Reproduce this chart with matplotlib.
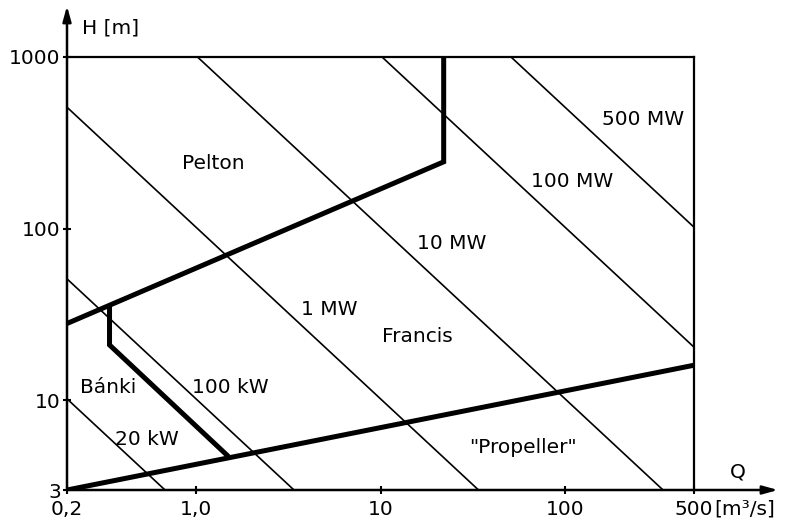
import matplotlib
matplotlib.use('Agg')
import matplotlib.pyplot as plt
import numpy as np
from matplotlib.ticker import FixedLocator, FixedFormatter, NullLocator

# ---- data ----
x_ticks = [0.2, 1.0, 10, 100, 500]
x_ticklabels = ['0,2', '1,0', '10', '100', '500']
y_ticks = [3, 10, 100, 1000]
y_ticklabels = ['3', '10', '100', '1000']

power_kW = [20, 100, 1000, 10000, 100000, 500000]
power_labels = ['20 kW', '100 kW', '1 MW', '10 MW', '100 MW', '500 MW']
rho_g = 9.81  # kN/m^3

pelton_Q = [0.2, 22, 22]
pelton_H = [28, 245, 1000]
banki_Q = [0.34, 0.34, 1.5]
banki_H = [35, 21, 4.7]
propeller_Q = [0.2, 500]
propeller_H = [3, 16]

region_labels = ['Pelton', 'Francis', 'Bánki', '"Propeller"']

# ---- layout ----
W, H = 794, 528
fig = plt.figure(figsize=(W / 100, H / 100), dpi=100)
x0, x1, y0, y1 = 67, 694, 57, 490
ax = fig.add_axes([x0 / W, 1 - y1 / H, (x1 - x0) / W, (y1 - y0) / H])
ax.set_xscale('log')
ax.set_yscale('log')
ax.set_xlim(0.2, 500)
ax.set_ylim(3, 1000)

fs = 14.5
font = 'DejaVu Sans'

# power lines
Qr = np.array([0.05, 2000.0])
for p in power_kW:
    ax.plot(Qr, p / (rho_g * Qr), color='black', lw=1.2, solid_capstyle='butt')

# thick boundaries
for q, h in [(pelton_Q, pelton_H), (banki_Q, banki_H), (propeller_Q, propeller_H)]:
    ax.plot(q, h, color='black', lw=3.6, solid_joinstyle='miter', solid_capstyle='butt')

# power labels
power_pos = [(0.54, 5.87), (1.53, 11.8), (5.3, 33.6), (24.4, 82), (109, 187), (265, 430)]
for lab, (qx, hy) in zip(power_labels, power_pos):
    ax.text(qx, hy, lab, ha='center', va='center', fontsize=fs, family=font)

region_pos = [(1.24, 241), (15.8, 23.4), (0.333, 11.8), (59, 5.34)]
for lab, (qx, hy) in zip(region_labels, region_pos):
    ax.text(qx, hy, lab, ha='center', va='center', fontsize=fs, family=font)

# spines / axes
for s in ['left', 'bottom']:
    ax.spines[s].set_visible(False)
for s in ['top', 'right']:
    ax.spines[s].set_linewidth(1.6)

ax.xaxis.set_major_locator(FixedLocator(x_ticks))
ax.xaxis.set_major_formatter(FixedFormatter(x_ticklabels))
ax.xaxis.set_minor_locator(NullLocator())
ax.yaxis.set_major_locator(FixedLocator(y_ticks))
ax.yaxis.set_major_formatter(FixedFormatter(y_ticklabels))
ax.yaxis.set_minor_locator(NullLocator())
ax.tick_params(axis='both', which='major', direction='inout', length=6, width=1.5,
               labelsize=fs)
ax.tick_params(axis='x', top=False, pad=4)
ax.tick_params(axis='y', right=False, pad=1.5)
for t in ax.get_xticklabels() + ax.get_yticklabels():
    t.set_family(font)

# arrows for axes
arrow_kw = dict(arrowstyle='-|>,head_length=0.9,head_width=0.25', lw=1.8, color='black',
                shrinkA=0, shrinkB=0)
ax.annotate('', xy=((778 - x0) / (x1 - x0), 0), xytext=(0, 0),
            xycoords='axes fraction', textcoords='axes fraction',
            arrowprops=arrow_kw, annotation_clip=False)
ax.annotate('', xy=(0, (y1 - 6) / (y1 - y0)), xytext=(0, 0),
            xycoords='axes fraction', textcoords='axes fraction',
            arrowprops=arrow_kw, annotation_clip=False)

# axis titles
fig.text(82 / W, 1 - 28 / H, 'H [m]', ha='left', va='center', fontsize=fs, family=font)
fig.text(738 / W, 1 - 472 / H, 'Q', ha='center', va='center', fontsize=fs, family=font)
fig.text(714 / W, 1 - 509 / H, '[m³/s]', ha='left', va='center', fontsize=fs, family=font)

fig.savefig('out.png', dpi=100)
